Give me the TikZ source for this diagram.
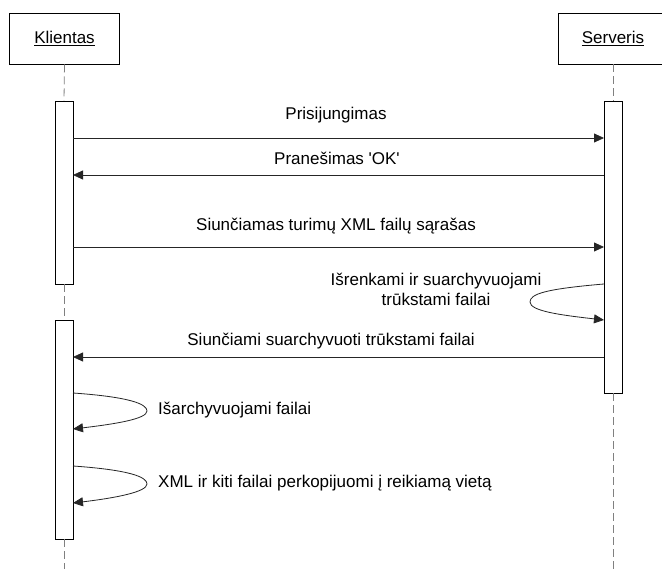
\documentclass[tikz,border=0pt]{standalone}
\usepackage{fontspec}
\setmainfont{Liberation Sans}
\usetikzlibrary{arrows.meta}
\begin{document}
\begin{tikzpicture}[x=1pt,y=-1pt,
  actor/.style={draw=black, line width=0.8pt, fill=white, minimum width=110pt,
    minimum height=51pt, inner sep=0pt, font=\fontsize{17}{20}\selectfont},
  bar/.style={draw=black, line width=0.8pt, fill=white, minimum width=18pt, inner sep=0pt},
  lifeline/.style={draw=gray, line width=0.8pt, dash pattern=on 8pt off 4pt},
  msg/.style={draw=black!85, line width=0.8pt, -{Triangle[length=10pt,width=9pt]}},
  lbl/.style={font=\fontsize{17}{20}\selectfont, inner sep=0pt, align=center},
]
\clip (0,0) rectangle (662,569);
\fill[white] (0,0) rectangle (662,569);

% participants
\node[actor] (client) at (64.5,38.5) {\underline{Klientas}};
\node[actor] (server) at (613,38.5) {\underline{Serveris}};

% activation bars
\node[bar, minimum height=183pt] (ca1) at (64,192.5) {};
\node[bar, minimum height=219pt] (ca2) at (64,429.5) {};
\node[bar, minimum height=292pt] (sa) at (613,247) {};

% lifeline ends
\coordinate (cend) at (64,569);
\coordinate (send) at (613,569);

% lifelines between boxes and bars
\draw[lifeline] (client.south) -- (ca1.north);
\draw[lifeline] (ca1.south) -- (ca2.north);
\draw[lifeline] (ca2.south) -- (cend);
\draw[lifeline] (server.south) -- (sa.north);
\draw[lifeline] (sa.south) -- (send);

% message end points on the bars
\coordinate (m1a) at (73,138);  \coordinate (m1b) at (604,138);
\coordinate (m2a) at (604,175); \coordinate (m2b) at (73,175);
\coordinate (m3a) at (73,247);  \coordinate (m3b) at (604,247);
\coordinate (l1a) at (604,284); \coordinate (l1b) at (604,320);
\coordinate (m4a) at (604,357); \coordinate (m4b) at (73,357);
\coordinate (l2a) at (73,393);  \coordinate (l2b) at (73,429);
\coordinate (l3a) at (73,466);  \coordinate (l3b) at (73,503);

% messages
\draw[msg] (m1a) -- (m1b);
\draw[msg] (m2a) -- (m2b);
\draw[msg] (m3a) -- (m3b);
\draw[msg] (l1a) .. controls (545,289) and (530,294) .. (530,302)
                 .. controls (530,311) and (560,315) .. (l1b);
\draw[msg] (m4a) -- (m4b);
\draw[msg] (l2a) .. controls (130,397) and (147,404) .. (147,411)
                 .. controls (147,419) and (115,424) .. (l2b);
\draw[msg] (l3a) .. controls (130,470) and (147,477) .. (147,484)
                 .. controls (147,492) and (115,498) .. (l3b);

% labels
\node[lbl] (t1) at (336,115) {Prisijungimas};
\node[lbl] (t2) at (337,158) {Pranešimas \textquotesingle OK\textquotesingle};
\node[lbl] (t3) at (336,226) {Siunčiamas turimų XML failų sąrašas};
\node[lbl] (t4) at (436,289) {Išrenkami ir suarchyvuojami\\trūkstami failai};
\node[lbl] (t5) at (331,341) {Siunčiami suarchyvuoti trūkstami failai};
\node[lbl, anchor=west] (t6) at (158,410) {Išarchyvuojami failai};
\node[lbl, anchor=west] (t7) at (158,483) {XML ir kiti failai perkopijuomi į reikiamą vietą};
\end{tikzpicture}
\end{document}
